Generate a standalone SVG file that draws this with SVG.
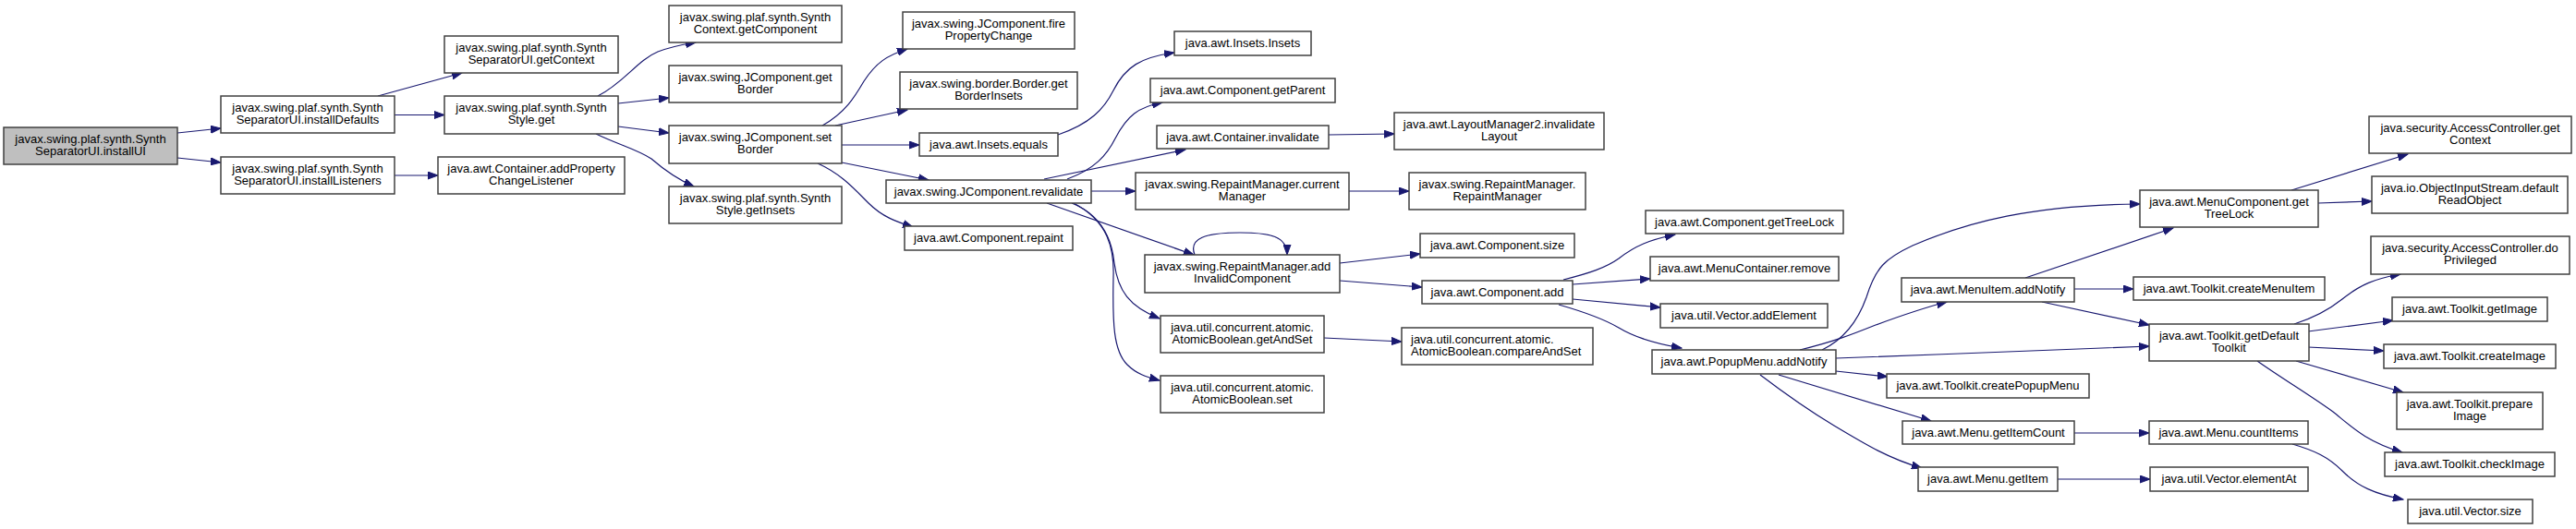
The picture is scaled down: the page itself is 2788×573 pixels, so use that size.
<svg xmlns="http://www.w3.org/2000/svg" width="2788" height="573" viewBox="0 0 2788 573">
<defs>
<marker id="a" markerWidth="12" markerHeight="9" refX="11" refY="4.5" orient="auto" markerUnits="userSpaceOnUse"><path d="M0,0.5 L11,4.5 L0,8.5 z" fill="#191970" stroke="#191970" stroke-width="1"/></marker>
</defs>
<style>
.n rect{fill:#fff;stroke:#404040;stroke-width:1.5}
.n.root rect{fill:#bfbfbf}
.n text{font-family:"Liberation Sans",Arial,sans-serif;font-size:13px;text-anchor:middle;fill:#000}
.n text.l{text-anchor:start}
.e path{fill:none;stroke:#191970;stroke-width:1.2;marker-end:url(#a)}
</style>
<rect width="2788" height="573" fill="#fff"/>
<g id="connectors" class="e">
<path d="M192,144 L239,139"/>
<path d="M192,171 L239,176"/>
<path d="M409,104 L500,79"/>
<path d="M427,124.5 L481,124.5"/>
<path d="M427,190 L474,190"/>
<path d="M647,104 C675,90 690,65 712,56 C728,50 740,48 753,46"/>
<path d="M669,112 L724,106"/>
<path d="M669,137 L724,144"/>
<path d="M645,145 C670,157 690,162 705,172 C720,185 735,195 751,202"/>
<path d="M890,136 C915,122 925,105 935,88 C948,68 960,60 982,53"/>
<path d="M904,136 L982,119"/>
<path d="M911,157 L995,157"/>
<path d="M911,176 L1005,195"/>
<path d="M885,177 C910,188 925,205 940,220 C955,235 970,240 988,246"/>
<path d="M1145,146 C1180,134 1195,118 1205,98 C1218,72 1235,62 1271,57"/>
<path d="M1155,194 C1185,183 1198,168 1207,150 C1220,125 1232,116 1258,111"/>
<path d="M1130,194 L1283,162"/>
<path d="M1181,207 L1229,207"/>
<path d="M1133,220 L1292,276"/>
<path d="M1160,220 C1190,232 1203,255 1206,285 C1210,315 1222,332 1255,345"/>
<path d="M1162,220 C1200,240 1206,270 1205,300 C1204,350 1205,380 1220,395 C1230,405 1240,408 1255,412"/>
<path d="M1460,207 L1525,207"/>
<path d="M1438,146 L1509,145"/>
<path d="M1293,276 C1286,258 1305,252 1342,252 C1375,252 1393,256 1393,276"/>
<path d="M1450,285 L1537,275"/>
<path d="M1450,304 L1539,311"/>
<path d="M1433,366 L1517,370"/>
<path d="M1692,303 C1720,296 1738,290 1752,280 C1770,266 1785,260 1813,254"/>
<path d="M1702,308 L1786,302"/>
<path d="M1702,324 L1797,333"/>
<path d="M1687,330 C1715,338 1735,345 1752,355 C1770,366 1790,372 1820,377"/>
<path d="M1948,379 C1985,370 2005,362 2030,352 C2060,341 2080,334 2107,327"/>
<path d="M1972,379 C1995,368 2010,350 2020,322 C2030,290 2040,280 2070,266 C2130,240 2200,222 2316,221"/>
<path d="M1987,388 C2100,384 2220,379 2326,375"/>
<path d="M1987,402 L2043,408"/>
<path d="M1925,406 L2090,456"/>
<path d="M1905,406 C1930,425 1960,446 1985,461 C2020,482 2045,497 2080,507"/>
<path d="M2192,301 L2352,247"/>
<path d="M2245,313 L2309,313"/>
<path d="M2210,327 L2326,352"/>
<path d="M2480,206 L2606,167"/>
<path d="M2509,220 L2567,218"/>
<path d="M2483,351 C2505,344 2520,336 2535,324 C2555,308 2570,302 2598,297"/>
<path d="M2498,359 L2590,347"/>
<path d="M2498,376 L2580,380"/>
<path d="M2485,391 L2601,425"/>
<path d="M2443,391 C2470,410 2500,428 2525,446 C2545,462 2560,478 2600,490"/>
<path d="M2245,469 L2326,469"/>
<path d="M2227,519 L2327,519"/>
<path d="M2481,481 C2505,488 2520,495 2535,510 C2552,527 2570,535 2601,541"/>
</g>
<g id="n1" class="n root"><rect x="4" y="138" width="188" height="40"/><text x="98" y="154.7">javax.swing.plaf.synth.Synth</text><text x="98" y="168">SeparatorUI.installUI</text></g>
<g id="n2" class="n"><rect x="239" y="104" width="188" height="40"/><text x="333" y="120.7">javax.swing.plaf.synth.Synth</text><text x="333" y="134">SeparatorUI.installDefaults</text></g>
<g id="n3" class="n"><rect x="239" y="170" width="188" height="40"/><text x="333" y="186.7">javax.swing.plaf.synth.Synth</text><text x="333" y="200">SeparatorUI.installListeners</text></g>
<g id="n4" class="n"><rect x="481" y="39" width="188" height="40"/><text x="575" y="55.7">javax.swing.plaf.synth.Synth</text><text x="575" y="69">SeparatorUI.getContext</text></g>
<g id="n5" class="n"><rect x="481" y="104" width="188" height="41"/><text x="575" y="120.7">javax.swing.plaf.synth.Synth</text><text x="575" y="134">Style.get</text></g>
<g id="n6" class="n"><rect x="474" y="170" width="202" height="40"/><text x="575" y="186.7">java.awt.Container.addProperty</text><text x="575" y="200">ChangeListener</text></g>
<g id="n7" class="n"><rect x="724" y="6" width="187" height="40"/><text x="817.5" y="22.7">javax.swing.plaf.synth.Synth</text><text x="817.5" y="36">Context.getComponent</text></g>
<g id="n8" class="n"><rect x="724" y="71" width="187" height="40"/><text x="817.5" y="87.7">javax.swing.JComponent.get</text><text x="817.5" y="101">Border</text></g>
<g id="n9" class="n"><rect x="724" y="136" width="187" height="41"/><text x="817.5" y="152.7">javax.swing.JComponent.set</text><text x="817.5" y="166">Border</text></g>
<g id="n10" class="n"><rect x="724" y="202" width="187" height="40"/><text x="817.5" y="218.7">javax.swing.plaf.synth.Synth</text><text x="817.5" y="232">Style.getInsets</text></g>
<g id="n11" class="n"><rect x="977" y="13" width="186" height="40"/><text x="1070" y="29.7">javax.swing.JComponent.fire</text><text x="1070" y="43">PropertyChange</text></g>
<g id="n12" class="n"><rect x="974" y="78" width="192" height="40"/><text x="1070" y="94.7">javax.swing.border.Border.get</text><text x="1070" y="108">BorderInsets</text></g>
<g id="n13" class="n"><rect x="995" y="144" width="150" height="25"/><text x="1070" y="160.8">java.awt.Insets.equals</text></g>
<g id="n14" class="n"><rect x="959" y="195" width="222" height="25"/><text x="1070" y="211.8">javax.swing.JComponent.revalidate</text></g>
<g id="n15" class="n"><rect x="979" y="245" width="182" height="26"/><text x="1070" y="261.8">java.awt.Component.repaint</text></g>
<g id="n16" class="n"><rect x="1271" y="34" width="148" height="26"/><text x="1345" y="50.8">java.awt.Insets.Insets</text></g>
<g id="n17" class="n"><rect x="1245" y="85" width="200" height="26"/><text x="1345" y="101.8">java.awt.Component.getParent</text></g>
<g id="n18" class="n"><rect x="1252" y="136" width="186" height="25"/><text x="1345" y="152.8">java.awt.Container.invalidate</text></g>
<g id="n19" class="n"><rect x="1229" y="187" width="231" height="40"/><text x="1344.5" y="203.7">javax.swing.RepaintManager.current</text><text x="1344.5" y="217">Manager</text></g>
<g id="n20" class="n"><rect x="1239" y="276" width="211" height="41"/><text x="1344.5" y="292.7">javax.swing.RepaintManager.add</text><text x="1344.5" y="306">InvalidComponent</text></g>
<g id="n21" class="n"><rect x="1256" y="342" width="177" height="40"/><text x="1344.5" y="358.7">java.util.concurrent.atomic.</text><text x="1344.5" y="372">AtomicBoolean.getAndSet</text></g>
<g id="n22" class="n"><rect x="1256" y="407" width="177" height="40"/><text x="1344.5" y="423.7">java.util.concurrent.atomic.</text><text x="1344.5" y="437">AtomicBoolean.set</text></g>
<g id="n23" class="n"><rect x="1509" y="122" width="227" height="40"/><text x="1622.5" y="138.7">java.awt.LayoutManager2.invalidate</text><text x="1622.5" y="152">Layout</text></g>
<g id="n24" class="n"><rect x="1525" y="187" width="191" height="40"/><text x="1620.5" y="203.7">javax.swing.RepaintManager.</text><text x="1620.5" y="217">RepaintManager</text></g>
<g id="n25" class="n"><rect x="1537" y="253" width="167" height="26"/><text x="1620.5" y="269.8">java.awt.Component.size</text></g>
<g id="n26" class="n"><rect x="1539" y="304" width="163" height="25"/><text x="1620.5" y="320.8">java.awt.Component.add</text></g>
<g id="n27" class="n"><rect x="1517" y="355" width="207" height="40"/><text class="l" x="1527" y="371.7">java.util.concurrent.atomic.</text><text class="l" x="1527" y="385">AtomicBoolean.compareAndSet</text></g>
<g id="n28" class="n"><rect x="1781" y="228" width="214" height="25"/><text x="1888" y="244.8">java.awt.Component.getTreeLock</text></g>
<g id="n29" class="n"><rect x="1786" y="278" width="204" height="26"/><text x="1888" y="294.8">java.awt.MenuContainer.remove</text></g>
<g id="n30" class="n"><rect x="1797" y="329" width="181" height="26"/><text x="1887.5" y="345.8">java.util.Vector.addElement</text></g>
<g id="n31" class="n"><rect x="1788" y="379" width="199" height="26"/><text x="1887.5" y="395.8">java.awt.PopupMenu.addNotify</text></g>
<g id="n32" class="n"><rect x="2058" y="301" width="187" height="26"/><text x="2151.5" y="317.8">java.awt.MenuItem.addNotify</text></g>
<g id="n33" class="n"><rect x="2042" y="405" width="219" height="26"/><text x="2151.5" y="421.8">java.awt.Toolkit.createPopupMenu</text></g>
<g id="n34" class="n"><rect x="2059" y="456" width="186" height="25"/><text x="2152" y="472.8">java.awt.Menu.getItemCount</text></g>
<g id="n35" class="n"><rect x="2076" y="506" width="151" height="26"/><text x="2151.5" y="522.8">java.awt.Menu.getItem</text></g>
<g id="n36" class="n"><rect x="2316" y="206" width="193" height="40"/><text x="2412.5" y="222.7">java.awt.MenuComponent.get</text><text x="2412.5" y="236">TreeLock</text></g>
<g id="n37" class="n"><rect x="2309" y="300" width="207" height="25"/><text x="2412.5" y="316.8">java.awt.Toolkit.createMenuItem</text></g>
<g id="n38" class="n"><rect x="2326" y="351" width="173" height="40"/><text x="2412.5" y="367.7">java.awt.Toolkit.getDefault</text><text x="2412.5" y="381">Toolkit</text></g>
<g id="n39" class="n"><rect x="2326" y="456" width="172" height="25"/><text x="2412" y="472.8">java.awt.Menu.countItems</text></g>
<g id="n40" class="n"><rect x="2327" y="506" width="171" height="26"/><text x="2412.5" y="522.8">java.util.Vector.elementAt</text></g>
<g id="n41" class="n"><rect x="2564" y="126" width="219" height="40"/><text x="2673.5" y="142.7">java.security.AccessController.get</text><text x="2673.5" y="156">Context</text></g>
<g id="n42" class="n"><rect x="2567" y="191" width="212" height="40"/><text x="2673" y="207.7">java.io.ObjectInputStream.default</text><text x="2673" y="221">ReadObject</text></g>
<g id="n43" class="n"><rect x="2566" y="256" width="215" height="41"/><text x="2673.5" y="272.7">java.security.AccessController.do</text><text x="2673.5" y="286">Privileged</text></g>
<g id="n44" class="n"><rect x="2589" y="322" width="168" height="26"/><text x="2673" y="338.8">java.awt.Toolkit.getImage</text></g>
<g id="n45" class="n"><rect x="2580" y="373" width="186" height="26"/><text x="2673" y="389.8">java.awt.Toolkit.createImage</text></g>
<g id="n46" class="n"><rect x="2594" y="425" width="158" height="40"/><text x="2673" y="441.7">java.awt.Toolkit.prepare</text><text x="2673" y="455">Image</text></g>
<g id="n47" class="n"><rect x="2581" y="490" width="184" height="26"/><text x="2673" y="506.8">java.awt.Toolkit.checkImage</text></g>
<g id="n48" class="n"><rect x="2606" y="541" width="135" height="26"/><text x="2673.5" y="557.8">java.util.Vector.size</text></g>
</svg>
